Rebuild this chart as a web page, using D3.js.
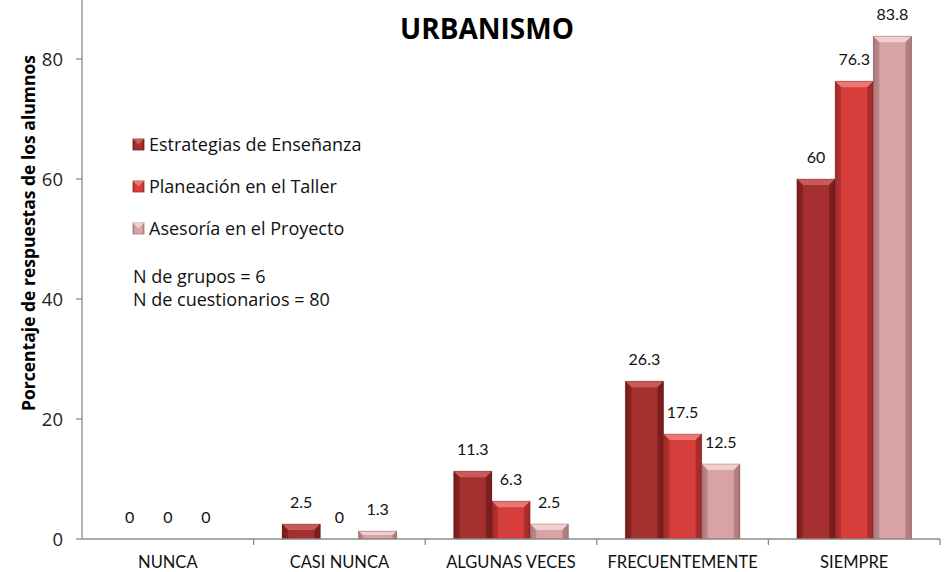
<!DOCTYPE html>
<html lang="es">
<head>
    <meta charset="UTF-8">
    <title>Urbanismo</title>
    <script src="https://d3js.org/d3.v7.min.js"></script>
    <style>
        body { margin: 0; background: #fff; }
        svg { display: block; }
        .axis-line { stroke: #8c8c8c; stroke-width: 1.3; }
    </style>
</head>
<body>
    <svg width="945" height="572"></svg>

    <script>
        // Chart data
        const categories = ["NUNCA", "CASI NUNCA", "ALGUNAS VECES", "FRECUENTEMENTE", "SIEMPRE"];
        const seriesNames = ["Estrategias de Enseñanza", "Planeación en el Taller", "Asesoría en el Proyecto"];
        const estrategias = [0, 2.5, 11.3, 26.3, 60];
        const planeacion = [0, 0, 6.3, 17.5, 76.3];
        const asesoria = [0, 1.3, 2.5, 12.5, 83.8];
        const yTicks = [0, 20, 40, 60, 80];
        const notes = ["N de grupos = 6", "N de cuestionarios = 80"];

        const seriesValues = [estrategias, planeacion, asesoria];
        const colors = [
            { base: "#a52f2f", light: "#c85a5a", dark: "#761c1c" },
            { base: "#d53e3b", light: "#ec7672", dark: "#a22a28" },
            { base: "#d9a2a4", light: "#efcfd0", dark: "#ad787b" }
        ];

        const svg = d3.select("svg");
        const margin = { top: 0, right: 5, bottom: 33, left: 82 };
        const width = 945 - margin.left - margin.right;
        const height = 539 - margin.top;

        const g = svg.append("g").attr("transform", `translate(${margin.left},${margin.top})`);

        const x0 = d3.scaleBand().domain(categories).range([0, width]);
        const gap = x0.bandwidth() * 0.166;
        const x1 = d3.scaleBand().domain(d3.range(seriesValues.length)).range([gap, x0.bandwidth() - gap]);
        const y = d3.scaleLinear().domain([0, 90]).range([height, -1]);

        // Gradients for the bevelled bars
        const defs = svg.append("defs");
        colors.forEach((c, i) => {
            const grad = defs.append("linearGradient")
                .attr("id", `grad-${i}`)
                .attr("x1", "0%").attr("x2", "100%").attr("y1", "0%").attr("y2", "0%");
            grad.append("stop").attr("offset", "0%").attr("stop-color", c.dark);
            grad.append("stop").attr("offset", "18%").attr("stop-color", c.base);
            grad.append("stop").attr("offset", "82%").attr("stop-color", c.base);
            grad.append("stop").attr("offset", "100%").attr("stop-color", c.dark);
        });

        // Title
        svg.append("text")
            .attr("x", 487).attr("y", 39)
            .attr("text-anchor", "middle")
            .style("font-family", "'Open Sans', sans-serif")
            .style("font-weight", "bold")
            .style("font-size", "28px")
            .text("URBANISMO");

        // Y axis
        const yAxis = g.append("g");
        yAxis.append("line").attr("class", "axis-line")
            .attr("x1", 0).attr("x2", 0).attr("y1", 0).attr("y2", height);
        yTicks.forEach(t => {
            yAxis.append("line").attr("class", "axis-line")
                .attr("x1", -6).attr("x2", 0).attr("y1", y(t)).attr("y2", y(t));
            yAxis.append("text")
                .attr("x", -19).attr("y", y(t)).attr("dy", "0.36em")
                .attr("text-anchor", "end")
                .style("font-family", "'Open Sans', sans-serif")
                .style("font-size", "18.5px")
                .attr("fill", "#222")
                .text(t);
        });

        svg.append("text")
            .attr("transform", `translate(35,233) rotate(-90)`)
            .attr("text-anchor", "middle")
            .style("font-family", "'Open Sans', sans-serif")
            .style("font-weight", "bold")
            .style("font-size", "17.5px")
            .text("Porcentaje de respuestas de los alumnos");

        // Bars
        const bev = 6;
        categories.forEach((cat, ci) => {
            const cg = g.append("g").attr("transform", `translate(${x0(cat)},0)`);
            seriesValues.forEach((vals, si) => {
                const v = vals[ci];
                const bx = x1(si), bw = x1.bandwidth();
                const top = y(v), bottom = y(0);
                const c = colors[si];
                if (v > 0) {
                    cg.append("rect")
                        .attr("x", bx).attr("y", top)
                        .attr("width", bw).attr("height", bottom - top)
                        .attr("fill", `url(#grad-${si})`);
                    const b = Math.min(bev, (bottom - top) / 2);
                    // top bevel
                    cg.append("polygon")
                        .attr("points", [[bx, top], [bx + bw, top], [bx + bw - b, top + b], [bx + b, top + b]].join(" "))
                        .attr("fill", c.light);
                    // left and right bevels
                    cg.append("polygon")
                        .attr("points", [[bx, top], [bx + b, top + b], [bx + b, bottom], [bx, bottom]].join(" "))
                        .attr("fill", c.dark).attr("opacity", 0.55);
                    cg.append("polygon")
                        .attr("points", [[bx + bw, top], [bx + bw - b, top + b], [bx + bw - b, bottom], [bx + bw, bottom]].join(" "))
                        .attr("fill", c.dark).attr("opacity", 0.75);
                    cg.append("rect")
                        .attr("x", bx).attr("y", top)
                        .attr("width", bw).attr("height", bottom - top)
                        .attr("fill", "none")
                        .attr("stroke", "#5a1414").attr("stroke-opacity", 0.35).attr("stroke-width", 0.8);
                }
                cg.append("text")
                    .attr("x", bx + bw / 2).attr("y", top - 16)
                    .attr("text-anchor", "middle")
                    .style("font-family", "Lato, sans-serif")
                    .style("font-size", "16px")
                    .attr("fill", "#111")
                    .text(v);
            });
        });

        // X axis
        const xAxis = g.append("g").attr("transform", `translate(0,${height})`);
        xAxis.append("line").attr("class", "axis-line")
            .attr("x1", 0).attr("x2", width).attr("y1", 0).attr("y2", 0);
        categories.forEach((cat, i) => {
            xAxis.append("line").attr("class", "axis-line")
                .attr("x1", x0(cat) + x0.bandwidth()).attr("x2", x0(cat) + x0.bandwidth())
                .attr("y1", 0).attr("y2", 6);
            xAxis.append("text")
                .attr("x", x0(cat) + x0.bandwidth() / 2).attr("y", 29)
                .attr("text-anchor", "middle")
                .style("font-family", "Lato, sans-serif")
                .style("font-size", "16.5px")
                .attr("fill", "#111")
                .text(cat);
        });

        // Legend
        const legend = svg.append("g");
        seriesNames.forEach((name, i) => {
            const ly = 145 + i * 42;
            legend.append("rect")
                .attr("x", 133).attr("y", ly - 6)
                .attr("width", 11).attr("height", 11)
                .attr("fill", `url(#grad-${i})`)
                .attr("stroke", colors[i].dark).attr("stroke-width", 0.8);
            legend.append("polygon")
                .attr("points", [[133, ly - 6], [144, ly - 6], [138.5, ly - 0.5]].join(" "))
                .attr("fill", colors[i].light);
            legend.append("text")
                .attr("x", 149).attr("y", ly).attr("dy", "0.35em")
                .style("font-family", "'Open Sans', sans-serif")
                .style("font-size", "18px")
                .attr("fill", "#111")
                .text(name);
        });
        notes.forEach((t, i) => {
            legend.append("text")
                .attr("x", 133).attr("y", 277 + i * 23).attr("dy", "0.35em")
                .style("font-family", "'Open Sans', sans-serif")
                .style("font-size", "18px")
                .attr("fill", "#111")
                .text(t);
        });
    </script>
</body>
</html>
